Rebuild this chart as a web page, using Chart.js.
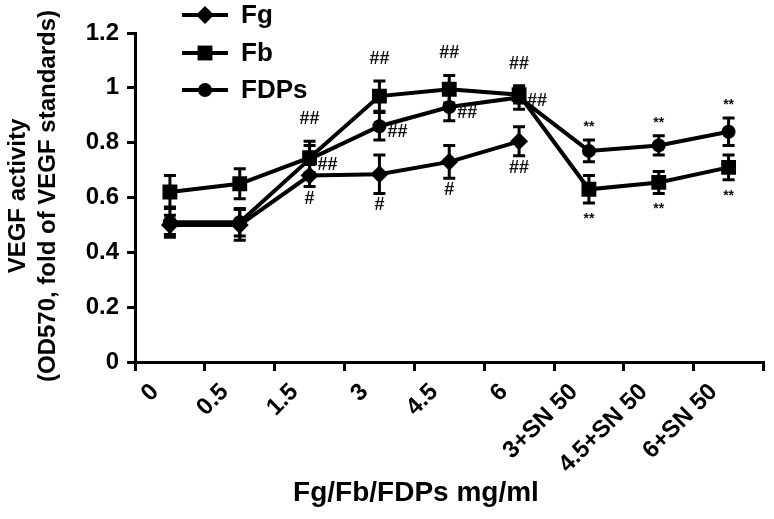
<!DOCTYPE html>
<html><head><meta charset="utf-8">
<script src="https://cdn.jsdelivr.net/npm/chart.js@4/dist/chart.umd.min.js"></script>
<style>html,body{margin:0;padding:0;background:#fff}#wrap{width:774px;height:519px;position:relative}</style>
</head><body><div id="wrap"><canvas id="c" width="774" height="519"></canvas></div>
<script>
// ---- data ----
const categories = ['0', '0.5', '1.5', '3', '4.5', '6', '3+SN 50', '4.5+SN 50', '6+SN 50'];
const seriesNames = ['Fg', 'Fb', 'FDPs'];
const fgValues  = [0.50, 0.50, 0.68, 0.685, 0.73, 0.805, null, null, null];
const fbValues  = [0.62, 0.65, 0.745, 0.97, 0.995, 0.975, 0.63, 0.655, 0.71];
const fdpValues = [0.51, 0.51, 0.74, 0.86, 0.93, 0.965, 0.77, 0.79, 0.84];
const fgErrors  = [0.035, 0.056, 0.04, 0.07, 0.06, 0.053, null, null, null];
const fbErrors  = [0.06, 0.055, 0.06, 0.055, 0.05, 0.03, 0.05, 0.04, 0.045];
const fdpErrors = [0.055, 0.05, 0.05, 0.05, 0.05, 0.043, 0.04, 0.035, 0.05];
const yTicks = [0, 0.2, 0.4, 0.6, 0.8, 1, 1.2];
const yTickLabels = ['0', '0.2', '0.4', '0.6', '0.8', '1', '1.2'];
const yAxisTitle = ['VEGF activity', '(OD570, fold of VEGF standards)'];
const xAxisTitle = 'Fg/Fb/FDPs mg/ml';
// significance marks: category index, series index (0 Fg, 1 Fb, 2 FDPs), text, side
const markIndex  = [2, 2, 2, 3, 3, 3, 4, 4, 4, 5, 5, 5, 6, 6, 7, 7, 8, 8];
const markSeries = [1, 2, 0, 1, 2, 0, 1, 2, 0, 1, 1, 0, 2, 1, 2, 1, 2, 1];
const markText   = ['##', '##', '#', '##', '##', '#', '##', '##', '#', '##', '##', '##', '**', '**', '**', '**', '**', '**'];
const markSide   = ['above', 'right', 'below', 'above', 'right', 'below', 'above', 'right', 'below', 'above', 'right', 'below', 'above', 'below', 'above', 'below', 'above', 'below'];

const FONT = '"Liberation Sans", Arial, Helvetica, sans-serif';
const styles = [
  {pointStyle: 'rectRot', radius: 9},
  {pointStyle: 'rect', radius: 10.5},
  {pointStyle: 'circle', radius: 7}
];
const values = [fgValues, fbValues, fdpValues];
const errors = [fgErrors, fbErrors, fdpErrors];

function drawMarker(ctx, style, r, x, y) {
  ctx.beginPath();
  if (style === 'rectRot') {
    ctx.moveTo(x, y - r); ctx.lineTo(x + r, y); ctx.lineTo(x, y + r); ctx.lineTo(x - r, y); ctx.closePath();
  } else if (style === 'rect') {
    const s = r * Math.SQRT1_2; ctx.rect(x - s, y - s, 2 * s, 2 * s);
  } else {
    ctx.arc(x, y, r, 0, Math.PI * 2);
  }
  ctx.fill();
}

const errorBars = {
  id: 'errorBars',
  beforeDatasetsDraw(chart) {
    const ctx = chart.ctx, ys = chart.scales.y;
    ctx.save(); ctx.strokeStyle = '#000'; ctx.lineWidth = 3;
    chart.data.datasets.forEach((ds, di) => {
      const meta = chart.getDatasetMeta(di);
      ds.errors.forEach((e, i) => {
        const v = ds.data[i]; if (v == null || e == null) return;
        const x = meta.data[i].x;
        const t = ys.getPixelForValue(v + e), b = ys.getPixelForValue(v - e);
        ctx.beginPath();
        ctx.moveTo(x, t); ctx.lineTo(x, b);
        ctx.moveTo(x - 6, t); ctx.lineTo(x + 6, t);
        ctx.moveTo(x - 6, b); ctx.lineTo(x + 6, b);
        ctx.stroke();
      });
    });
    ctx.restore();
  }
};

const marks = {
  id: 'marks',
  afterDatasetsDraw(chart) {
    const ctx = chart.ctx, ys = chart.scales.y;
    ctx.save(); ctx.fillStyle = '#111'; ctx.textAlign = 'center'; ctx.textBaseline = 'middle';
    markIndex.forEach((i, k) => {
      const s = markSeries[k];
      const meta = chart.getDatasetMeta(s);
      const x = meta.data[i].x;
      const v = values[s][i], e = errors[s][i] || 0;
      const star = markText[k] === '**';
      ctx.font = star ? 'bold 14px ' + FONT : 'bold 18px ' + FONT;
      let px = x, py;
      if (markSide[k] === 'above') py = ys.getPixelForValue(v + e) - (star ? 17 : 22);
      else if (markSide[k] === 'below') py = ys.getPixelForValue(v - e) + 12;
      else { px = x + 18; py = ys.getPixelForValue(v) + 6; }
      ctx.fillText(markText[k], px, py + (star ? 4 : 0));
    });
    ctx.restore();
  }
};

const decor = {
  id: 'decor',
  afterDraw(chart) {
    const ctx = chart.ctx;
    ctx.save();
    // legend
    const ly = [15, 53, 90];
    seriesNames.forEach((n, k) => {
      ctx.strokeStyle = '#000'; ctx.fillStyle = '#000'; ctx.lineWidth = 4;
      ctx.beginPath(); ctx.moveTo(182, ly[k]); ctx.lineTo(228, ly[k]); ctx.stroke();
      drawMarker(ctx, styles[k].pointStyle, styles[k].radius, 205, ly[k]);
      ctx.font = 'bold 26px ' + FONT; ctx.textAlign = 'left'; ctx.textBaseline = 'middle';
      ctx.fillText(n, 241, ly[k] + 1);
    });
    // y title
    ctx.save();
    ctx.translate(18, 196); ctx.rotate(-Math.PI / 2);
    ctx.font = 'bold 24px ' + FONT; ctx.textAlign = 'center'; ctx.textBaseline = 'middle';
    ctx.fillText(yAxisTitle[0], 0, 0);
    ctx.fillText(yAxisTitle[1], 0, 30);
    ctx.restore();
    // x title
    ctx.font = 'bold 28px ' + FONT; ctx.textAlign = 'center'; ctx.textBaseline = 'middle';
    ctx.fillText(xAxisTitle, 416, 493);
    ctx.restore();
  }
};

new Chart(document.getElementById('c'), {
  type: 'line',
  data: {
    labels: categories,
    datasets: seriesNames.map((n, k) => ({
      label: n,
      data: values[k],
      errors: errors[k],
      borderColor: '#000',
      backgroundColor: '#000',
      borderWidth: 4,
      pointStyle: styles[k].pointStyle,
      pointRadius: styles[k].radius,
      pointBorderWidth: 0,
      pointBackgroundColor: '#000',
      tension: 0,
      spanGaps: false
    }))
  },
  options: {
    responsive: false,
    animation: false,
    devicePixelRatio: 1,
    layout: {padding: {top: 33, right: 3, left: 0, bottom: 0}},
    plugins: {legend: {display: false}, tooltip: {enabled: false}},
    scales: {
      x: {
        type: 'category',
        offset: true,
        afterFit: s => { s.height = 157; },
        grid: {offset: true, drawOnChartArea: false, color: '#000', lineWidth: 3, tickLength: 9, tickWidth: 3},
        border: {color: '#000', width: 3},
        ticks: {
          color: '#000', autoSkip: false, minRotation: 45, maxRotation: 45,
          labelOffset: -15, padding: 7,
          font: {family: FONT, size: 24, weight: 'bold'}
        }
      },
      y: {
        min: 0, max: 1.2,
        afterFit: s => { s.width = 135; },
        afterBuildTicks: s => { s.ticks = yTicks.map(v => ({value: v})); },
        grid: {drawOnChartArea: false, color: '#000', lineWidth: 3, tickLength: 8, tickWidth: 3},
        border: {color: '#000', width: 3},
        ticks: {
          color: '#000', padding: 8, font: {family: FONT, size: 24, weight: 'bold'},
          callback: (v, i) => yTickLabels[i]
        }
      }
    }
  },
  plugins: [errorBars, marks, decor]
});
</script></body></html>
